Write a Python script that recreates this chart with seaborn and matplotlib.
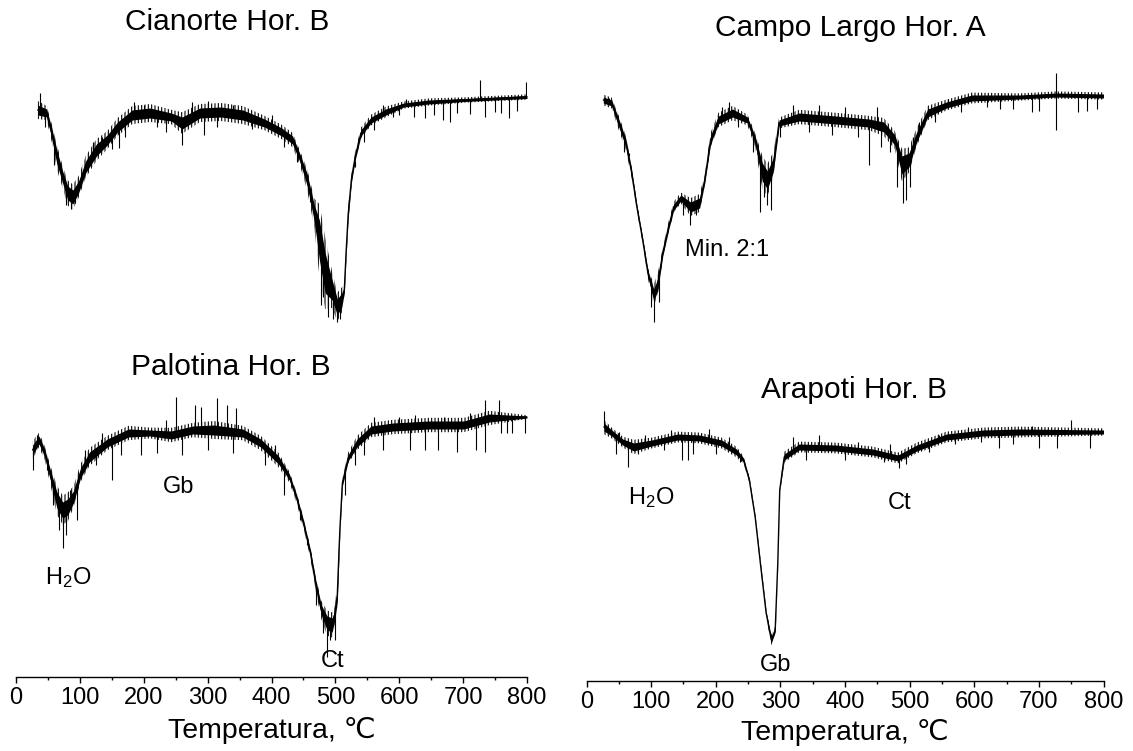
import numpy as np
import matplotlib
matplotlib.use("Agg")
import matplotlib.pyplot as plt
import seaborn as sns

# ---------------- data (DTA signal, arbitrary units; 0 = high-T baseline) ----------------
cia_T = [34, 48, 56, 64, 73, 81, 89, 98, 109, 126, 143, 159, 182, 210, 243, 260, 288, 321, 355, 389,
         416, 433, 444, 456, 467, 475, 484, 495, 503, 510, 514, 517, 520, 525, 531, 540, 556, 579, 607, 646,
         702, 800]
cia_v = [-13, -16, -36, -60, -80, -96, -100, -90, -70, -53, -43, -30, -18, -16, -20, -26, -16, -15, -18, -26,
         -35, -43, -60, -83, -116, -143, -176, -193, -210, -203, -193, -153, -118, -83, -60, -36, -23, -15, -8, -5,
         -3, 0]
cia_n = [5, 4, 5, 7, 6, 7, 7, 6, 6, 6, 5, 5, 5, 5, 4, 6, 5, 5, 5, 4,
         4, 4, 4, 6, 8, 20, 20, 10, 8, 7, 3, 4, 4, 3, 3, 3, 3, 3, 2, 2,
         1.5, 1.5]
cia_spk_T = [37, 45, 60, 78, 86, 92, 103, 120, 135, 150, 162, 170, 185, 200, 220, 235, 260, 275, 294, 300,
             315, 340, 370, 400, 420, 440, 460, 470, 477, 480, 488, 497, 503, 508, 530, 545, 560, 575, 590, 600,
             610, 623, 640, 655, 668, 679, 690, 710, 726, 735, 750, 760, 772, 785, 799]
cia_spk_v = [4, -30, -68, -108, -112, -106, -85, -45, -40, -52, -51, -40, -5, -8, -30, -35, -48, -5, -38, -4,
             -30, -8, -32, -18, -50, -65, -105, -135, -208, -200, -220, -222, -225, -222, -70, -45, -33, -8, -20, -18,
             -2, -20, -21, -18, -23, -25, -16, -17, 17, -20, -15, -16, -21, -14, 15]

cam_T = [26, 39, 50, 61, 70, 78, 87, 95, 104, 110, 118, 127, 135, 146, 161, 175, 183, 192, 204, 226,
         249, 261, 272, 280, 289, 298, 329, 386, 437, 460, 477, 488, 499, 511, 528, 557, 596, 670, 727, 800]
cam_v = [-3, -6, -26, -46, -76, -110, -143, -176, -198, -188, -156, -130, -110, -101, -110, -106, -83, -43, -23, -16,
         -23, -43, -75, -83, -68, -26, -20, -23, -26, -30, -43, -68, -63, -40, -16, -8, -1, 0, 2, 1]
cam_n = [3, 3, 4, 4, 3, 2, 2, 3, 6, 6, 3, 3, 3, 3, 5, 5, 3, 4, 4, 4,
         3, 4, 9, 9, 7, 3, 4, 4, 4, 5, 5, 9, 7, 5, 4, 3, 3, 2, 2, 2]
cam_spk_T = [35, 45, 58, 65, 100, 105, 112, 130, 150, 160, 170, 178, 210, 220, 235, 258, 268, 275, 280, 285,
             300, 320, 345, 360, 380, 400, 420, 437, 450, 455, 470, 480, 490, 494, 500, 505, 515, 540, 560, 580,
             620, 640, 660, 690, 700, 710, 727, 727, 760, 775, 790]
cam_spk_v = [-1, -20, -55, -56, -210, -225, -205, -120, -118, -128, -118, -95, -10, -5, -30, -55, -115, -100, -108, -113,
             -40, -8, -35, -8, -38, -10, -40, -68, -10, -50, -55, -90, -106, -103, -90, -40, -25, -25, -2, -15,
             -10, -12, -12, -15, -14, 3, 24, -33, -15, -14, -12]

pal_T = [26, 36, 45, 53, 64, 73, 81, 90, 101, 115, 143, 176, 210, 243, 277, 310, 355, 383, 411, 428,
         439, 450, 461, 469, 478, 487, 495, 499, 503, 507, 511, 520, 534, 556, 590, 646, 701, 741, 800]
pal_v = [-25, -15, -28, -48, -75, -85, -82, -72, -48, -32, -18, -8, -8, -10, -5, -5, -8, -18, -35, -52,
         -72, -98, -128, -158, -185, -198, -200, -190, -170, -105, -58, -33, -18, -5, -2, 0, 0, 7, 8]
pal_n = [5, 4, 4, 5, 8, 8, 8, 6, 5, 5, 4, 4, 3, 4, 4, 5, 4, 4, 4, 3,
         3, 3, 3, 4, 5, 7, 7, 5, 7, 3, 3, 3, 4, 4, 4, 4, 4, 4, 1]
pal_spk_T = [26, 33, 48, 58, 68, 73, 78, 85, 95, 108, 125, 135, 151, 165, 185, 195, 220, 235, 250, 260,
             280, 290, 300, 315, 330, 340, 345, 365, 390, 405, 420, 445, 455, 470, 480, 487, 492, 500, 515, 530,
             545, 560, 575, 600, 617, 625, 640, 660, 670, 690, 710, 720, 735, 735, 756, 760, 768, 777, 797]
pal_spk_v = [-45, -10, -45, -80, -105, -123, -110, -65, -95, -25, -40, -8, -55, -30, -5, -30, -28, 5, 28, -30,
             20, 18, -25, 27, 20, -28, 17, -10, -40, -20, -70, -95, -120, -180, -208, -232, -215, -215, -70, -40,
             -30, 8, -25, 8, -25, 10, -25, -25, 8, -27, 12, -25, 25, -27, 25, -8, -8, -8, -8]

ara_T = [27, 39, 56, 73, 101, 141, 175, 209, 232, 243, 252, 261, 269, 278, 286, 292, 296, 299, 306, 329,
         386, 443, 482, 511, 557, 613, 670, 800]
ara_v = [5, -1, -10, -15, -11, -5, -6, -11, -20, -28, -48, -85, -131, -181, -208, -198, -131, -58, -25, -15,
         -16, -20, -26, -16, -5, -1, 0, 0]
ara_n = [4, 3, 3, 4, 3, 3, 3, 3, 3, 2, 1.5, 1, 1.5, 1.5, 3, 2, 1, 1, 3, 3,
         3, 3, 3, 3, 3, 3, 3, 2]
ara_spk_T = [27, 45, 50, 64, 80, 90, 120, 130, 148, 157, 165, 190, 200, 220, 237, 320, 340, 360, 400, 420,
             460, 470, 483, 495, 530, 545, 570, 590, 610, 639, 660, 690, 700, 728, 749, 779]
ara_spk_v = [21, -22, 0, -35, -22, -3, -18, 2, -28, -28, -22, 3, -22, -5, -30, -5, -28, -3, -28, -10,
             -30, -12, -36, -32, -20, -3, -12, 5, -10, -16, -12, 6, -16, -16, 12, -16]

x_ticks = [0, 100, 200, 300, 400, 500, 600, 700, 800]
x_label = "Temperatura, \u2103"
titles = ["Cianorte Hor. B", "Campo Largo Hor. A", "Palotina Hor. B", "Arapoti Hor. B"]

# ---------------- style ----------------
sns.set_theme(style="white")
plt.rcParams["font.family"] = ["Liberation Sans", "DejaVu Sans"]
plt.rcParams["mathtext.fontset"] = "custom"
plt.rcParams["mathtext.rm"] = "Liberation Sans"
plt.rcParams["mathtext.it"] = "Liberation Sans"
plt.rcParams["hatch.linewidth"] = 0.8
plt.rcParams["hatch.color"] = "black"

W, H = 1133, 751
fig = plt.figure(figsize=(W / 100, H / 100), dpi=100)

def make_ax(x0, x1, row_axis, row_label):
    ax = fig.add_axes([x0 / W, 1 - row_axis / H, (x1 - x0) / W, row_axis / H])
    ax.set_xlim(0, 800)
    ax.set_ylim(row_axis, 0)
    for s in ["top", "left", "right"]:
        ax.spines[s].set_visible(False)
    ax.spines["bottom"].set_color("black")
    ax.spines["bottom"].set_linewidth(1.0)
    ax.set_xticks(x_ticks)
    ax.set_xticks([50, 150, 250, 350, 450, 550, 650, 750], minor=True)
    ax.set_yticks([])
    ax.tick_params(axis="x", which="major", direction="out", length=4, width=1,
                   color="black", labelsize=17, labelcolor="black", pad=3, bottom=True)
    ax.tick_params(axis="x", which="minor", direction="out", length=2, width=1,
                   color="black", bottom=True)
    ax.set_xlabel(x_label, fontsize=20.5, color="black")
    ax.xaxis.label.set_va("center")
    ax.xaxis.set_label_coords(0.5, -(row_label - row_axis) / row_axis)
    ax.grid(False)
    return ax

def draw_curve(ax, T, v, n, sT, sv, base):
    T = np.asarray(T, float)
    v = np.asarray(v, float)
    n = np.asarray(n, float)
    rows = base - v
    # fuzzy outer noise zone drawn as fine vertical strokes, solid dense core
    ax.fill_between(T, rows - 1.8 * n, rows + 1.8 * n, facecolor="none",
                    edgecolor="black", hatch="|||||", lw=0)
    ax.fill_between(T, rows - n, rows + n, color="black", lw=0)
    sns.lineplot(x=T, y=rows, ax=ax, color="black", lw=1.0, estimator=None, sort=False)
    sT = np.asarray(sT, float)
    start = base - np.interp(sT, T, v)
    ax.vlines(sT, start, base - np.asarray(sv, float), color="black", lw=0.8)

axL = make_ax(16, 527, 677, 730)
axR = make_ax(586.5, 1103.5, 681, 732)

draw_curve(axL, cia_T, cia_v, cia_n, cia_spk_T, cia_spk_v, 97)
draw_curve(axL, pal_T, pal_v, pal_n, pal_spk_T, pal_spk_v, 425)
draw_curve(axR, cam_T, cam_v, cam_n, cam_spk_T, cam_spk_v, 97)
draw_curve(axR, ara_T, ara_v, ara_n, ara_spk_T, ara_spk_v, 432)

tkw = dict(ha="center", va="center", color="black")
axL.text(330, 22, titles[0], fontsize=21.5, **tkw)
axR.text(408, 28, titles[1], fontsize=21.5, **tkw)
axL.text(336, 367, titles[2], fontsize=21.5, **tkw)
axR.text(414, 390, titles[3], fontsize=21.5, **tkw)

akw = dict(fontsize=17, **tkw)
axR.text(217, 250, "Min. 2:1", **akw)
axL.text(81, 578, r"H$_\mathregular{2}$O", **akw)
axL.text(254, 487, "Gb", **akw)
axL.text(495, 661, "Ct", **akw)
axR.text(100, 498, r"H$_\mathregular{2}$O", **akw)
axR.text(485, 503, "Ct", **akw)
axR.text(292, 665, "Gb", **akw)

fig.savefig("out.png", dpi=100, facecolor="white")
